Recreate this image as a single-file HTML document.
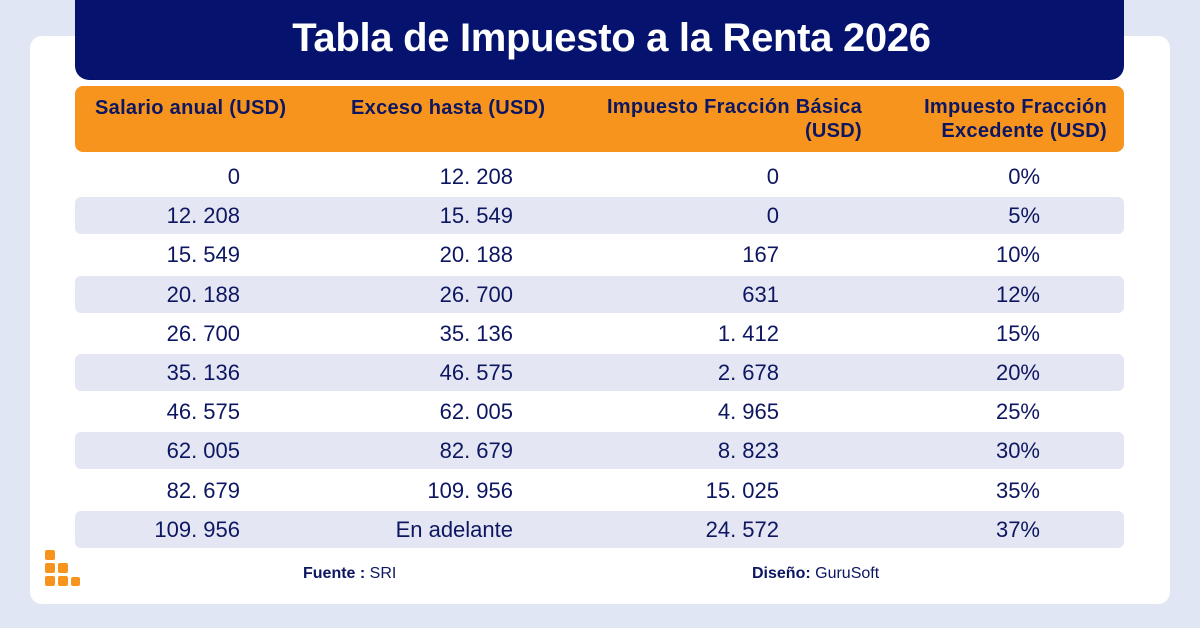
<!DOCTYPE html>
<html><head><meta charset="utf-8">
<style>
body{margin:0;width:1200px;height:628px;background:#e1e6f4;position:relative;overflow:hidden;font-family:"Liberation Sans",sans-serif;color:#0d1660}
.card{position:absolute;left:30px;top:36px;width:1140px;height:568px;background:#fff;border-radius:12px}
.title{position:absolute;left:75px;top:0;width:1049px;height:80px;background:#06136e;border-radius:0 0 14px 14px;color:#fff;font-weight:bold;font-size:40px;text-align:center;line-height:76px;letter-spacing:-0.3px;box-sizing:border-box;padding-left:24px}
.head{position:absolute;left:75px;top:86px;width:1049px;height:66px;background:#f7941d;border-radius:8px;font-weight:bold;font-size:20px;letter-spacing:0.3px}
.head div{position:absolute;line-height:24px}
.row{position:absolute;left:75px;width:1049px;height:37px;border-radius:6px;font-size:22px}
.row.g{background:#e4e7f3}
.row span{position:absolute;top:0;line-height:37px}
.foot{position:absolute;top:565px;font-size:16px}
.dot{position:absolute;width:10px;height:10px;background:#f7941d;border-radius:2px}
</style></head><body>
<div class="card"></div>
<div class="title">Tabla de Impuesto a la Renta 2026</div>
<div class="head">
<div style="left:20px;top:10px">Salario anual (USD)</div>
<div style="left:276px;top:10px">Exceso hasta (USD)</div>
<div style="right:262px;top:9px;text-align:right">Impuesto Fracción Básica<br>(USD)</div>
<div style="right:17px;top:9px;text-align:right">Impuesto Fracción<br>Excedente (USD)</div>
</div>
<div id="rows"></div>
<div class="foot" style="left:303px"><b>Fuente :</b> SRI</div>
<div class="foot" style="left:752px"><b>Diseño:</b> GuruSoft</div>
<div>
<div class="dot" style="left:45px;top:550px"></div>
<div class="dot" style="left:45px;top:563px"></div><div class="dot" style="left:58px;top:563px"></div>
<div class="dot" style="left:45px;top:576px"></div><div class="dot" style="left:58px;top:576px"></div><div class="dot" style="left:71px;top:577px;width:9px;height:9px"></div>
</div>
<script>
const salario=["0","12. 208","15. 549","20. 188","26. 700","35. 136","46. 575","62. 005","82. 679","109. 956"];
const exceso=["12. 208","15. 549","20. 188","26. 700","35. 136","46. 575","62. 005","82. 679","109. 956","En adelante"];
const basica=["0","0","167","631","1. 412","2. 678","4. 965","8. 823","15. 025","24. 572"];
const excedente=["0%","5%","10%","12%","15%","20%","25%","30%","35%","37%"];
const rights=[1124-240,1124-513,1124-779,1124-1040];
const c=document.getElementById('rows');
for(let i=0;i<salario.length;i++){
const r=document.createElement('div');
r.className='row'+(i%2?' g':'');
r.style.top=(158+i*39.2)+'px';


[salario[i],exceso[i],basica[i],excedente[i]].forEach((v,j)=>{
const s=document.createElement('span');
s.textContent=v;s.style.right=rights[j]+'px';


r.appendChild(s);});
c.appendChild(r);}
</script>
</body></html>
